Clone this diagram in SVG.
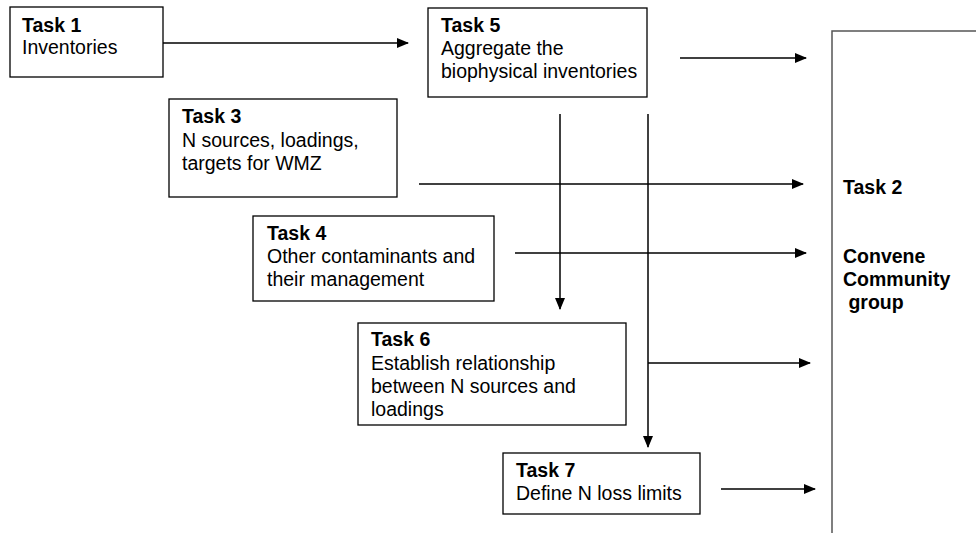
<svg xmlns="http://www.w3.org/2000/svg" width="976" height="533" viewBox="0 0 976 533">
<defs>
<style>
.box{fill:#fff;stroke:#000;stroke-width:1.3}
.t{font-family:"Liberation Sans",Arial,sans-serif;font-size:19.5px;fill:#000}
.b{font-weight:bold}
.c{stroke:#000;stroke-width:1.5;fill:none}
</style>
<marker id="ah" markerWidth="12" markerHeight="10" refX="11" refY="5" orient="auto" markerUnits="userSpaceOnUse">
<path d="M0,0 L12,5 L0,10 Z" fill="#000"/>
</marker>
</defs>
<rect width="976" height="533" fill="#fff"/>
<g id="connectors">
<line class="c" x1="163" y1="43" x2="408" y2="43" marker-end="url(#ah)"/>
<line class="c" x1="680" y1="58" x2="806" y2="58" marker-end="url(#ah)"/>
<line class="c" x1="419" y1="184" x2="803" y2="184" marker-end="url(#ah)"/>
<line class="c" x1="515" y1="253" x2="806" y2="253" marker-end="url(#ah)"/>
<line class="c" x1="648" y1="363" x2="810" y2="363" marker-end="url(#ah)"/>
<line class="c" x1="721" y1="489" x2="815" y2="489" marker-end="url(#ah)"/>
<line class="c" x1="560" y1="114" x2="560" y2="309" marker-end="url(#ah)"/>
<line class="c" x1="648" y1="114" x2="648" y2="447" marker-end="url(#ah)"/>
</g>
<g id="task2">
<path d="M976,31 H832 V533" fill="none" stroke="#555" stroke-width="1.5"/>
<text class="t b" x="843" y="194">Task 2</text>
<text class="t b" x="843" y="263">Convene</text>
<text class="t b" x="843" y="286">Community</text>
<text class="t b" x="843" y="309" xml:space="preserve"> group</text>
</g>
<g id="task1">
<rect class="box" x="10" y="7" width="153" height="70"/>
<text class="t b" x="22" y="32">Task 1</text>
<text class="t" x="22" y="54">Inventories</text>
</g>
<g id="task5">
<rect class="box" x="428" y="8" width="219" height="89"/>
<text class="t b" x="441" y="32">Task 5</text>
<text class="t" x="441" y="55">Aggregate the</text>
<text class="t" x="441" y="78">biophysical inventories</text>
</g>
<g id="task3">
<rect class="box" x="169" y="99" width="228" height="98"/>
<text class="t b" x="182" y="123">Task 3</text>
<text class="t" x="182" y="147">N sources, loadings,</text>
<text class="t" x="182" y="170">targets for WMZ</text>
</g>
<g id="task4">
<rect class="box" x="253" y="216" width="241" height="85"/>
<text class="t b" x="267" y="240">Task 4</text>
<text class="t" x="267" y="263">Other contaminants and</text>
<text class="t" x="267" y="286">their management</text>
</g>
<g id="task6">
<rect class="box" x="358" y="323" width="268" height="102"/>
<text class="t b" x="371" y="346">Task 6</text>
<text class="t" x="371" y="370">Establish relationship</text>
<text class="t" x="371" y="393">between N sources and</text>
<text class="t" x="371" y="416">loadings</text>
</g>
<g id="task7">
<rect class="box" x="503" y="453" width="197" height="61"/>
<text class="t b" x="516" y="477">Task 7</text>
<text class="t" x="516" y="500">Define N loss limits</text>
</g>
</svg>
